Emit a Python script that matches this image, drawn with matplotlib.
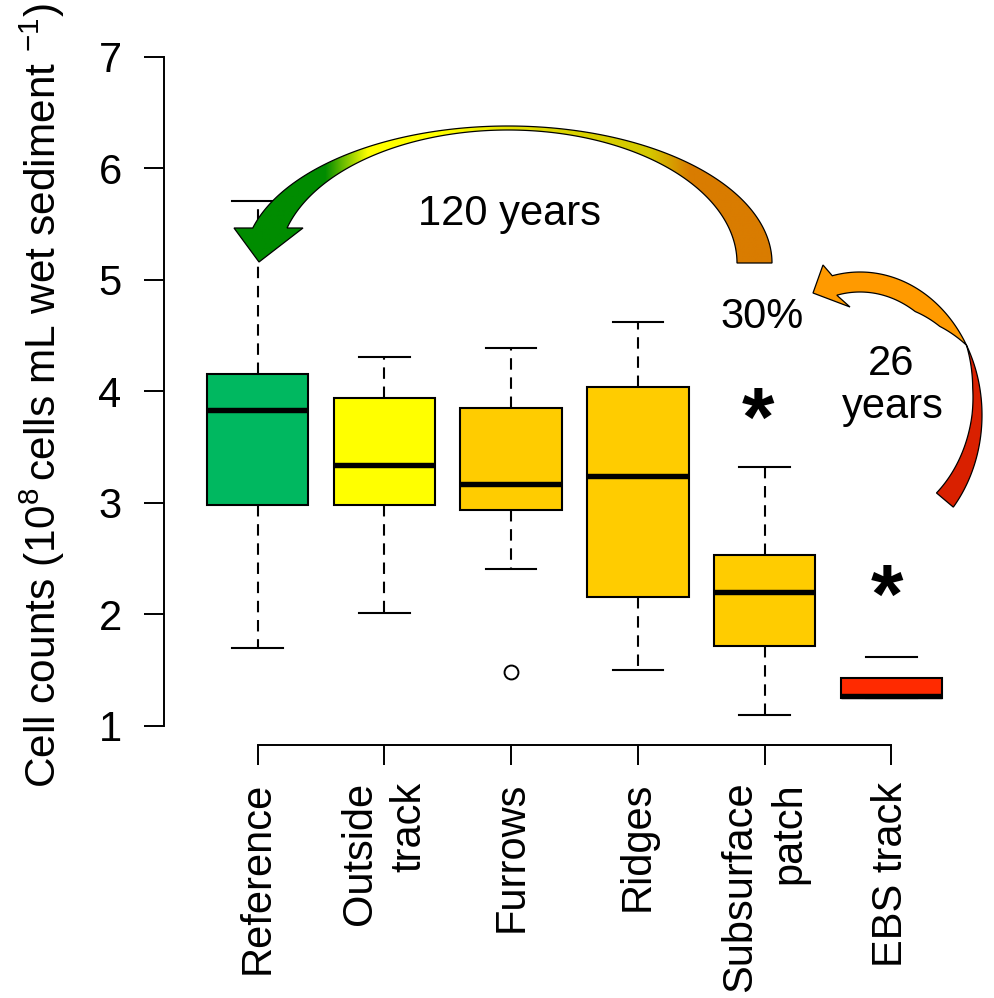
"""
Cell counts per site — boxplot with recovery arrows
"""
import numpy as np
import matplotlib
matplotlib.use("Agg")
import matplotlib.pyplot as plt
from matplotlib.patches import Polygon

plt.rcParams["font.family"] = ["Liberation Sans", "DejaVu Sans"]
plt.rcParams["mathtext.fontset"] = "custom"
plt.rcParams["mathtext.rm"] = "Liberation Sans"
plt.rcParams["mathtext.default"] = "regular"

# ── data ───────────────────────────────────────────────
sites        = ["Reference", "Outside\ntrack", "Furrows", "Ridges", "Subsurface\npatch", "EBS track"]
whisker_low  = [1.70, 2.01, 2.41, 1.50, 1.10, 1.25]
q1           = [2.98, 2.98, 2.94, 2.16, 1.72, 1.25]
medians      = [3.83, 3.34, 3.17, 3.24, 2.20, 1.27]
q3           = [4.16, 3.94, 3.85, 4.04, 2.53, 1.43]
whisker_high = [5.71, 4.31, 4.39, 4.62, 3.32, 1.62]
outliers     = [[], [], [1.48], [], [], []]
box_colors   = ["#00B860", "#FFFF00", "#FFCC00", "#FFCC00", "#FFCC00", "#FF2A00"]
y_ticks      = [1, 2, 3, 4, 5, 6, 7]

W, H = 994, 998
fig = plt.figure(figsize=(W / 100, H / 100), dpi=100)

# main axes (R-like: 4% padding around 0.5..6.5)
ax = fig.add_axes([164 / W, 1 - 745 / H, 821 / W, 714.8 / H])
ax.set_xlim(0.26, 6.74)
ax.set_ylim(0.8296, 7.24)

stats = [dict(med=m, q1=a, q3=b, whislo=lo, whishi=hi, fliers=f)
         for m, a, b, lo, hi, f in zip(medians, q1, q3, whisker_low, whisker_high, outliers)]
positions = np.arange(1, len(sites) + 1)

bp = ax.bxp(
    stats, positions=positions, widths=0.8, patch_artist=True, manage_ticks=False,
    boxprops=dict(linewidth=1.5, edgecolor="black"),
    whiskerprops=dict(linewidth=1.5, linestyle=(0, (5.5, 3.7)), color="black"),
    capprops=dict(linewidth=1.5, color="black"),
    medianprops=dict(linewidth=3.9, color="black", solid_capstyle="butt"),
    flierprops=dict(marker="o", markerfacecolor="white", markeredgecolor="black",
                    markersize=10, markeredgewidth=1.4),
)
for box, c in zip(bp["boxes"], box_colors):
    box.set_facecolor(c)
# EBS track: no dashed upper segment visible in the source
bp["whiskers"][11].set_visible(False)

for side in ("top", "right"):
    ax.spines[side].set_visible(False)
ax.spines["left"].set_bounds(1, 7)
ax.spines["bottom"].set_bounds(1, 6)
for side in ("left", "bottom"):
    ax.spines[side].set_linewidth(1.4)

ax.set_yticks(y_ticks)
ax.set_yticklabels([str(v) for v in y_ticks], fontsize=30)
ax.set_xticks(positions)
ax.set_xticklabels(sites, rotation=90, ha="center", va="top",
                   multialignment="right", linespacing=1.3, fontsize=30)
ax.tick_params(axis="both", direction="out", length=14.5, width=1.4)
ax.tick_params(axis="y", pad=16)
ax.tick_params(axis="x", pad=12)
ax.patch.set_visible(False)

fig.text(42 / W, 1 - 395 / H,
         "Cell counts (10$^8\\,$cells mL wet sediment $^{-1}$)",
         rotation=90, ha="center", va="center", fontsize=30.5)

# ── annotation overlay in pixel coordinates ─────────────
ov = fig.add_axes([0, 0, 1, 1], zorder=5)
ov.set_xlim(0, W)
ov.set_ylim(H, 0)
ov.axis("off")

# big curved arrow (120 years), orange -> yellow -> green
cx, cy = 508, 263
t_out = np.linspace(0, np.pi - np.arcsin(35 / 137), 200)
t_in = np.linspace(0, np.pi - np.arcsin(35 / 133), 200)
outer = np.column_stack([cx + 264 * np.cos(t_out), cy - 137 * np.sin(t_out)])
inner = np.column_stack([cx + 229 * np.cos(t_in), cy - 133 * np.sin(t_in)])
head = np.array([[234, 228], [259, 262], [303, 228]])
big = Polygon(np.vstack([outer, head, inner[::-1]]), closed=True,
              facecolor="none", edgecolor="black", linewidth=0.9, zorder=3)
ov.add_patch(big)

stop_x = [225, 325, 368, 440, 540, 650, 690, 780]
stop_c = ["#008C00", "#008C00", "#FFFF00", "#FFFF00", "#DDD800", "#D4C800", "#D97C00", "#D97C00"]
rgb = np.array([matplotlib.colors.to_rgb(c) for c in stop_c])
xs = np.linspace(225, 780, 600)
grad = np.stack([np.interp(xs, stop_x, rgb[:, k]) for k in range(3)], axis=-1)[None, :, :]
im = ov.imshow(grad, extent=(225, 780, 270, 120), aspect="auto",
               interpolation="bilinear", zorder=2)
im.set_clip_path(big)
ov.set_xlim(0, W)
ov.set_ylim(H, 0)

# small twisted arrow (26 years): red tail, orange head
scx, scy, sa, sb = 860, 415, 122, 143
knots_t = [-0.70, 0.0, 0.2, 0.51, 0.75, 1.0, 1.80]
knots_w = [22, 10, 7, 0, 13, 20, 20]


def band(t0, t1):
    t = np.linspace(t0, t1, 120)
    w = np.interp(t, knots_t, knots_w)
    o = np.column_stack([scx + sa * np.cos(t), scy - sb * np.sin(t)])
    i = np.column_stack([scx + (sa - w) * np.cos(t), scy - (sb - w) * np.sin(t)])
    return o, i


o_red, i_red = band(-0.70, 0.51)
ov.add_patch(Polygon(np.vstack([o_red, i_red[::-1]]), closed=True,
                     facecolor="#D92000", edgecolor="black", linewidth=0.9, zorder=3))
o_or, i_or = band(0.51, 1.80)
small_head = np.array([[823, 265], [813, 293], [850, 307]])
ov.add_patch(Polygon(np.vstack([o_or, small_head, i_or[::-1]]), closed=True,
                     facecolor="#FF9A00", edgecolor="black", linewidth=0.9, zorder=3))

# labels
ov.text(509, 225, "120 years", ha="center", va="baseline", fontsize=30)
ov.text(762, 328, "30%", ha="center", va="baseline", fontsize=30)
ov.text(891, 375, "26", ha="center", va="baseline", fontsize=30)
ov.text(893, 418, "years", ha="center", va="baseline", fontsize=30)
ov.text(758, 446, "*", ha="center", va="baseline", fontsize=60, fontweight="bold")
ov.text(887, 623, "*", ha="center", va="baseline", fontsize=60, fontweight="bold")

fig.savefig("out.png", dpi=100)
